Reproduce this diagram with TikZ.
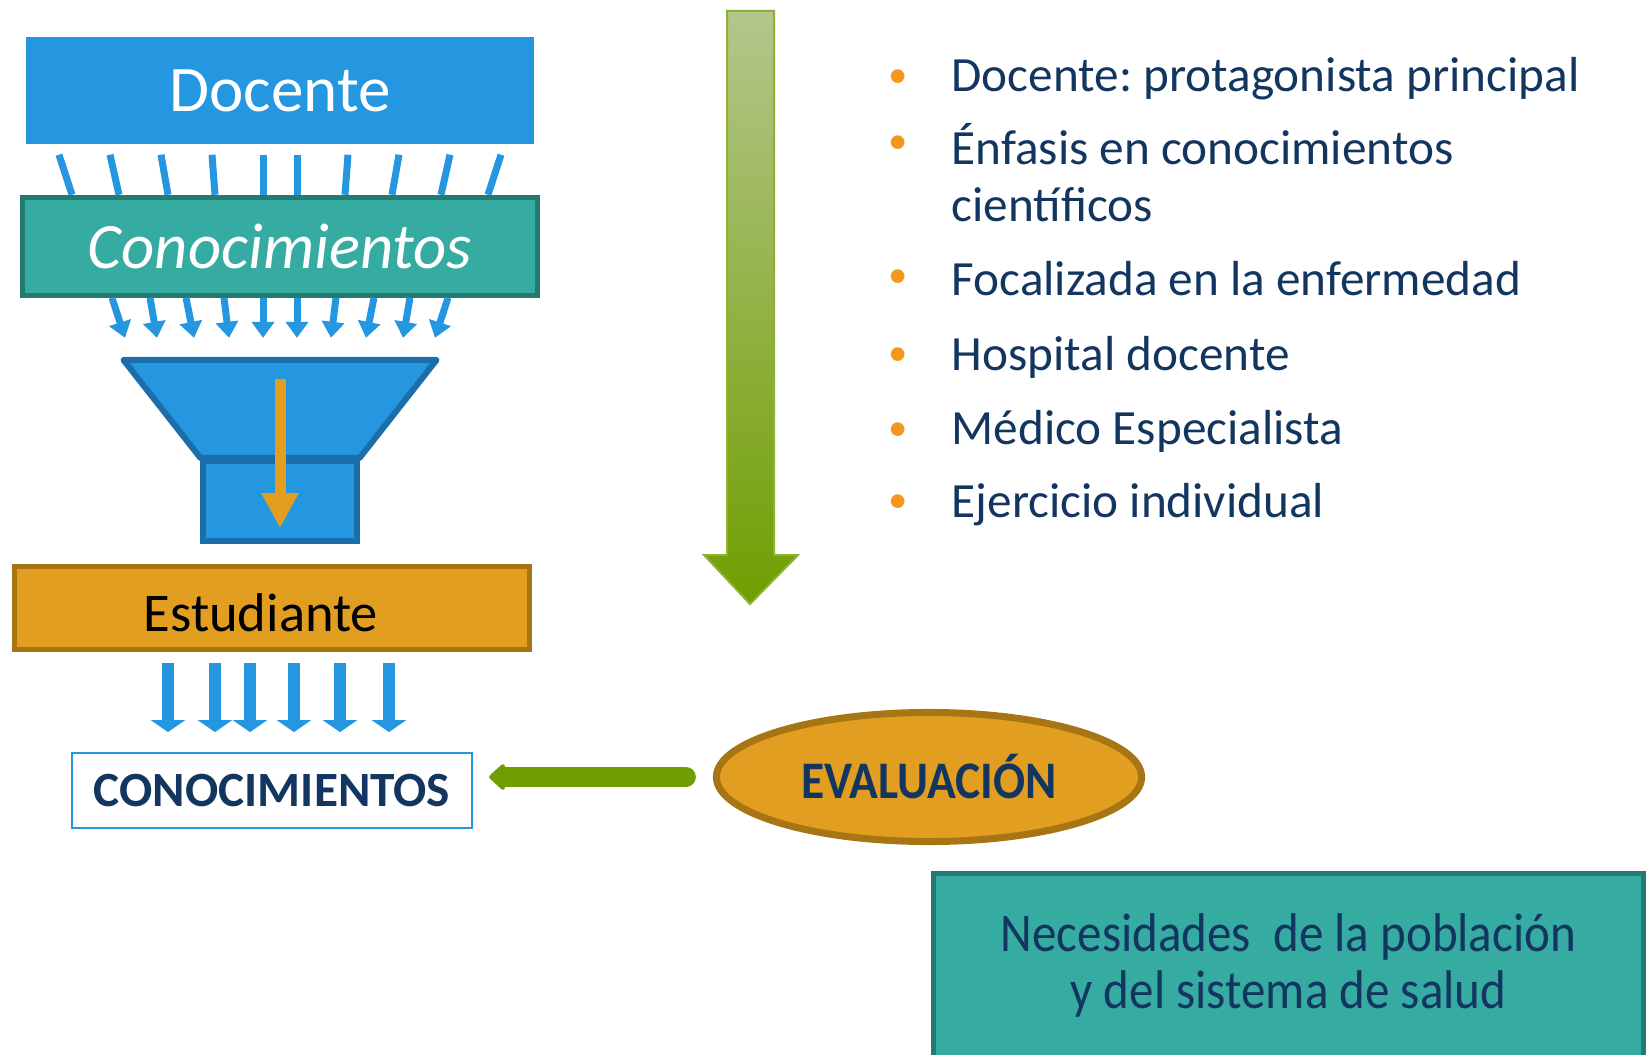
\documentclass[tikz,border=0pt]{standalone}
\usepackage{fontspec}
\setmainfont{Carlito}
\newfontfamily\narrowfont[FakeStretch=0.9]{Carlito}
\usepackage{xcolor}
\usetikzlibrary{positioning,arrows.meta,calc,shapes.geometric}
\definecolor{docblue}{RGB}{37,150,224}
\definecolor{docblueline}{RGB}{27,110,170}
\definecolor{tealfill}{RGB}{54,171,161}
\definecolor{tealline}{RGB}{34,122,112}
\definecolor{gold}{RGB}{225,158,32}
\definecolor{goldline}{RGB}{168,117,20}
\definecolor{navy}{RGB}{18,54,96}
\definecolor{dotorange}{RGB}{243,152,29}
\definecolor{leafgreen}{RGB}{112,158,0}
\definecolor{leafpale}{RGB}{180,198,140}
\tikzset{
 every label/.style={phantom,align=left},
 phantom/.style={rectangle,inner sep=0pt,draw=none,fill=none},
 headbox/.style={rectangle,fill=docblue,minimum width=5.07cm,minimum height=1.07cm,
   text=white,font=\fontsize{18.5}{22}\selectfont},
 knowbox/.style={rectangle,draw=tealline,line width=0.05cm,fill=tealfill,
   minimum width=5.14cm,minimum height=0.98cm,text=white,font=\itshape\fontsize{18.4}{22}\selectfont},
 ray/.style={docblue,line width=0.07cm},
 dart/.style={docblue,line width=0.07cm,-{Triangle[length=0.16cm,width=0.22cm]}},
 neckbox/.style={rectangle,draw=docblueline,line width=0.06cm,fill=docblue,
   minimum width=1.53cm,minimum height=0.8cm},
 funnel/.style={draw=docblueline,line width=0.06cm,fill=docblue,line join=round},
 pour/.style={gold,line width=0.11cm,-{Triangle[length=0.35cm,width=0.35cm]}},
 studentbox/.style={rectangle,draw=goldline,line width=0.05cm,fill=gold,
   minimum width=5.14cm,minimum height=0.83cm},
 studentlabel/.style={xshift=-0.11cm,yshift=-0.05cm,font=\fontsize{15.5}{18}\selectfont},
 drip/.style={docblue,line width=0.11cm,-{Triangle[length=0.12cm,width=0.34cm]}},
 outcome/.style={rectangle,draw=docblue,line width=0.02cm,fill=white,
   minimum width=4.0cm,minimum height=0.75cm,text=navy,font=\bfseries\fontsize{14}{17}\selectfont},
 evalnode/.style={ellipse,draw=goldline,line width=0.07cm,fill=gold,
   minimum width=4.25cm,minimum height=1.29cm,text=navy,font=\narrowfont\bfseries\fontsize{15}{18}\selectfont},
 returnarrow/.style={leafgreen,line width=0.2cm,line cap=round,
   -{Triangle[length=0.17cm,width=0.3cm,round]},shorten <=0.27cm,shorten >=0.16cm},
 needbox/.style={rectangle,draw=tealline,line width=0.05cm,fill=tealfill,
   minimum width=7.1cm,minimum height=1.84cm,align=center,text=navy,
   font=\narrowfont\fontsize{15.5}{16}\selectfont},
 flowarrow/.style={top color=leafpale,bottom color=leafgreen,draw=leafgreen!80!white,line width=0.02cm},
 pointitem/.style={anchor=base west,text=navy,font=\fontsize{14}{17}\selectfont},
 bulletdot/.style={text=dotorange,xshift=-0.43cm,font=\fontsize{11}{11}\selectfont}}
\frenchspacing
\begin{document}
\begin{tikzpicture}[x=0.01cm,y=-0.01cm,every node/.style={inner sep=0pt}]
\path[use as bounding box,clip] (0,0) rectangle (1652,1055);
\fill[white] (0,0) rectangle (1652,1055);
% left column: teacher -> knowledge -> funnel -> student
\node[headbox] (doc) at (280,90.5) {Docente};
\node[knowbox, below=0.5cm of doc] (con) {Conocimientos};
\foreach \a/\b in {-221/-208,-170/-161,-119/-112,-68/-65,-17/-17,17/17,68/65,119/112,170/161,221/208}
  \draw[ray] ($(doc.south)+(\a,10)$) -- ($(con.north)+(\b,0)$);
\foreach \a/\b in {-168/-155,-130/-123,-94/-86,-56/-51,-17/-17,17/17,56/51,94/86,130/123,168/155}
  \draw[dart] ($(con.south)+(\a,0)$) -- ($(con.south)+(\b,40)$);
\node[neckbox] (neck) at (280,501) {};
\draw[funnel] (neck.north west) -- ++(-77,-98) -- ($(neck.north east)+(77,-98)$) -- (neck.north east) -- cycle;
\draw[pour] ($(neck.north)+(0,-79)$) -- ($(neck.south)+(0,-16)$);
\node[studentbox, below=0.2cm of neck, xshift=-0.08cm, label={[studentlabel]center:Estudiante}] (est) {};
\foreach \a in {-104,-57,-22,22,68,117}
  \draw[drip] ($(est.south)+(\a,11)$) -- ($(est.south)+(\a,80)$);
\node[outcome, below=1cm of est] (out) {CONOCIMIENTOS};
% evaluation
\node[evalnode] (eval) at (929,777) {EVALUACIÓN};
\draw[returnarrow] (eval.west) -- (eval.west -| out.east);
\node[needbox] (need) at (1288.5,965.5) {Necesidades~ de la población\\y del sistema de salud};
% green time arrow
\shade[flowarrow] (727,11) -- (774,11) -- (774,555) -- (798,555) -- (750,604) -- (704,555) -- (727,555) -- cycle;
% bullet list
\foreach \y/\t [count=\i] in {92/{Docente: protagonista principal},165/{Énfasis en conocimientos},
    296/{Focalizada en la enfermedad},370/{Hospital docente},445/{Médico Especialista},517/{Ejercicio individual}}
  \node[pointitem, label={[bulletdot]left:\textbullet}] (it\i) at (951,\y) {\t};
\node[pointitem] (it2b) at (951,222) {científicos};
\end{tikzpicture}
\end{document}
